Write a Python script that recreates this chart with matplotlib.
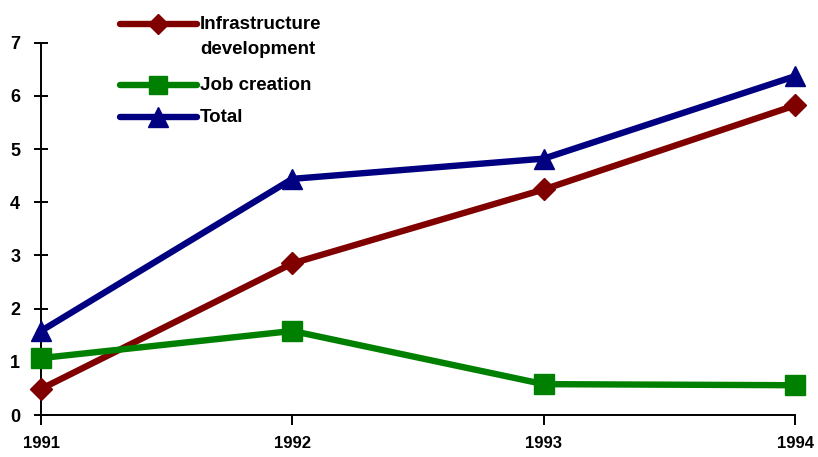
import matplotlib
matplotlib.use("Agg")
import matplotlib.pyplot as plt
from matplotlib.lines import Line2D

years = [1991, 1992, 1993, 1994]
infrastructure = [0.49, 2.85, 4.24, 5.82]
job_creation = [1.07, 1.58, 0.58, 0.56]
total = [1.58, 4.44, 4.82, 6.37]
yticks = [0, 1, 2, 3, 4, 5, 6, 7]

plt.rcParams['font.family'] = ['Liberation Sans', 'DejaVu Sans']
plt.rcParams['font.weight'] = 'bold'

W, H = 818, 457
fig = plt.figure(figsize=(W / 100, H / 100), dpi=100)
ax = fig.add_axes([41 / W, 1 - 415 / H, (795 - 41) / W, (415 - 42.7) / H])

red = '#800000'
green = '#008000'
blue = '#000080'
lw = 4.6

ax.plot(years, infrastructure, color=red, lw=lw, marker='D', ms=11, clip_on=False, zorder=3)
ax.plot(years, job_creation, color=green, lw=lw, marker='s', ms=14, clip_on=False, zorder=3)
ax.plot(years, total, color=blue, lw=lw, marker='^', ms=15, clip_on=False, zorder=4)

ax.set_xlim(1991, 1994)
ax.set_ylim(0, 7)
ax.set_xticks(years)
ax.set_xticklabels([str(y) for y in years], fontsize=12, fontweight='bold')
ax.set_yticks(yticks)
ax.set_yticklabels([str(t) for t in yticks], fontsize=13, fontweight='bold')
for s in ['top', 'right']:
    ax.spines[s].set_visible(False)
for s in ['left', 'bottom']:
    ax.spines[s].set_linewidth(1.4)
ax.tick_params(axis='y', direction='inout', length=10, width=1.4, pad=10)
ax.tick_params(axis='x', direction='out', length=7, width=1.4, pad=8)

# manual legend
entries = [
    (24, red, 'D', 10, 'Infrastructure\ndevelopment'),
    (85, green, 's', 13, 'Job creation'),
    (117, blue, '^', 14, 'Total'),
]
for yy, c, m, ms, lab in entries:
    yf = 1 - yy / H
    fig.add_artist(Line2D([120 / W, 197 / W], [yf, yf], color=c, lw=lw,
                          solid_capstyle='round', transform=fig.transFigure))
    fig.add_artist(Line2D([158 / W], [yf], color=c, marker=m, ms=ms, lw=0,
                          transform=fig.transFigure))
    if '\n' in lab:
        fig.text(200 / W, 1 - 16 / H, lab, fontsize=13.5, fontweight='bold',
                 va='top', ha='left', linespacing=1.6)
    else:
        fig.text(200 / W, yf, lab, fontsize=13.5, fontweight='bold', va='center', ha='left')

fig.savefig('out.png', dpi=100)
